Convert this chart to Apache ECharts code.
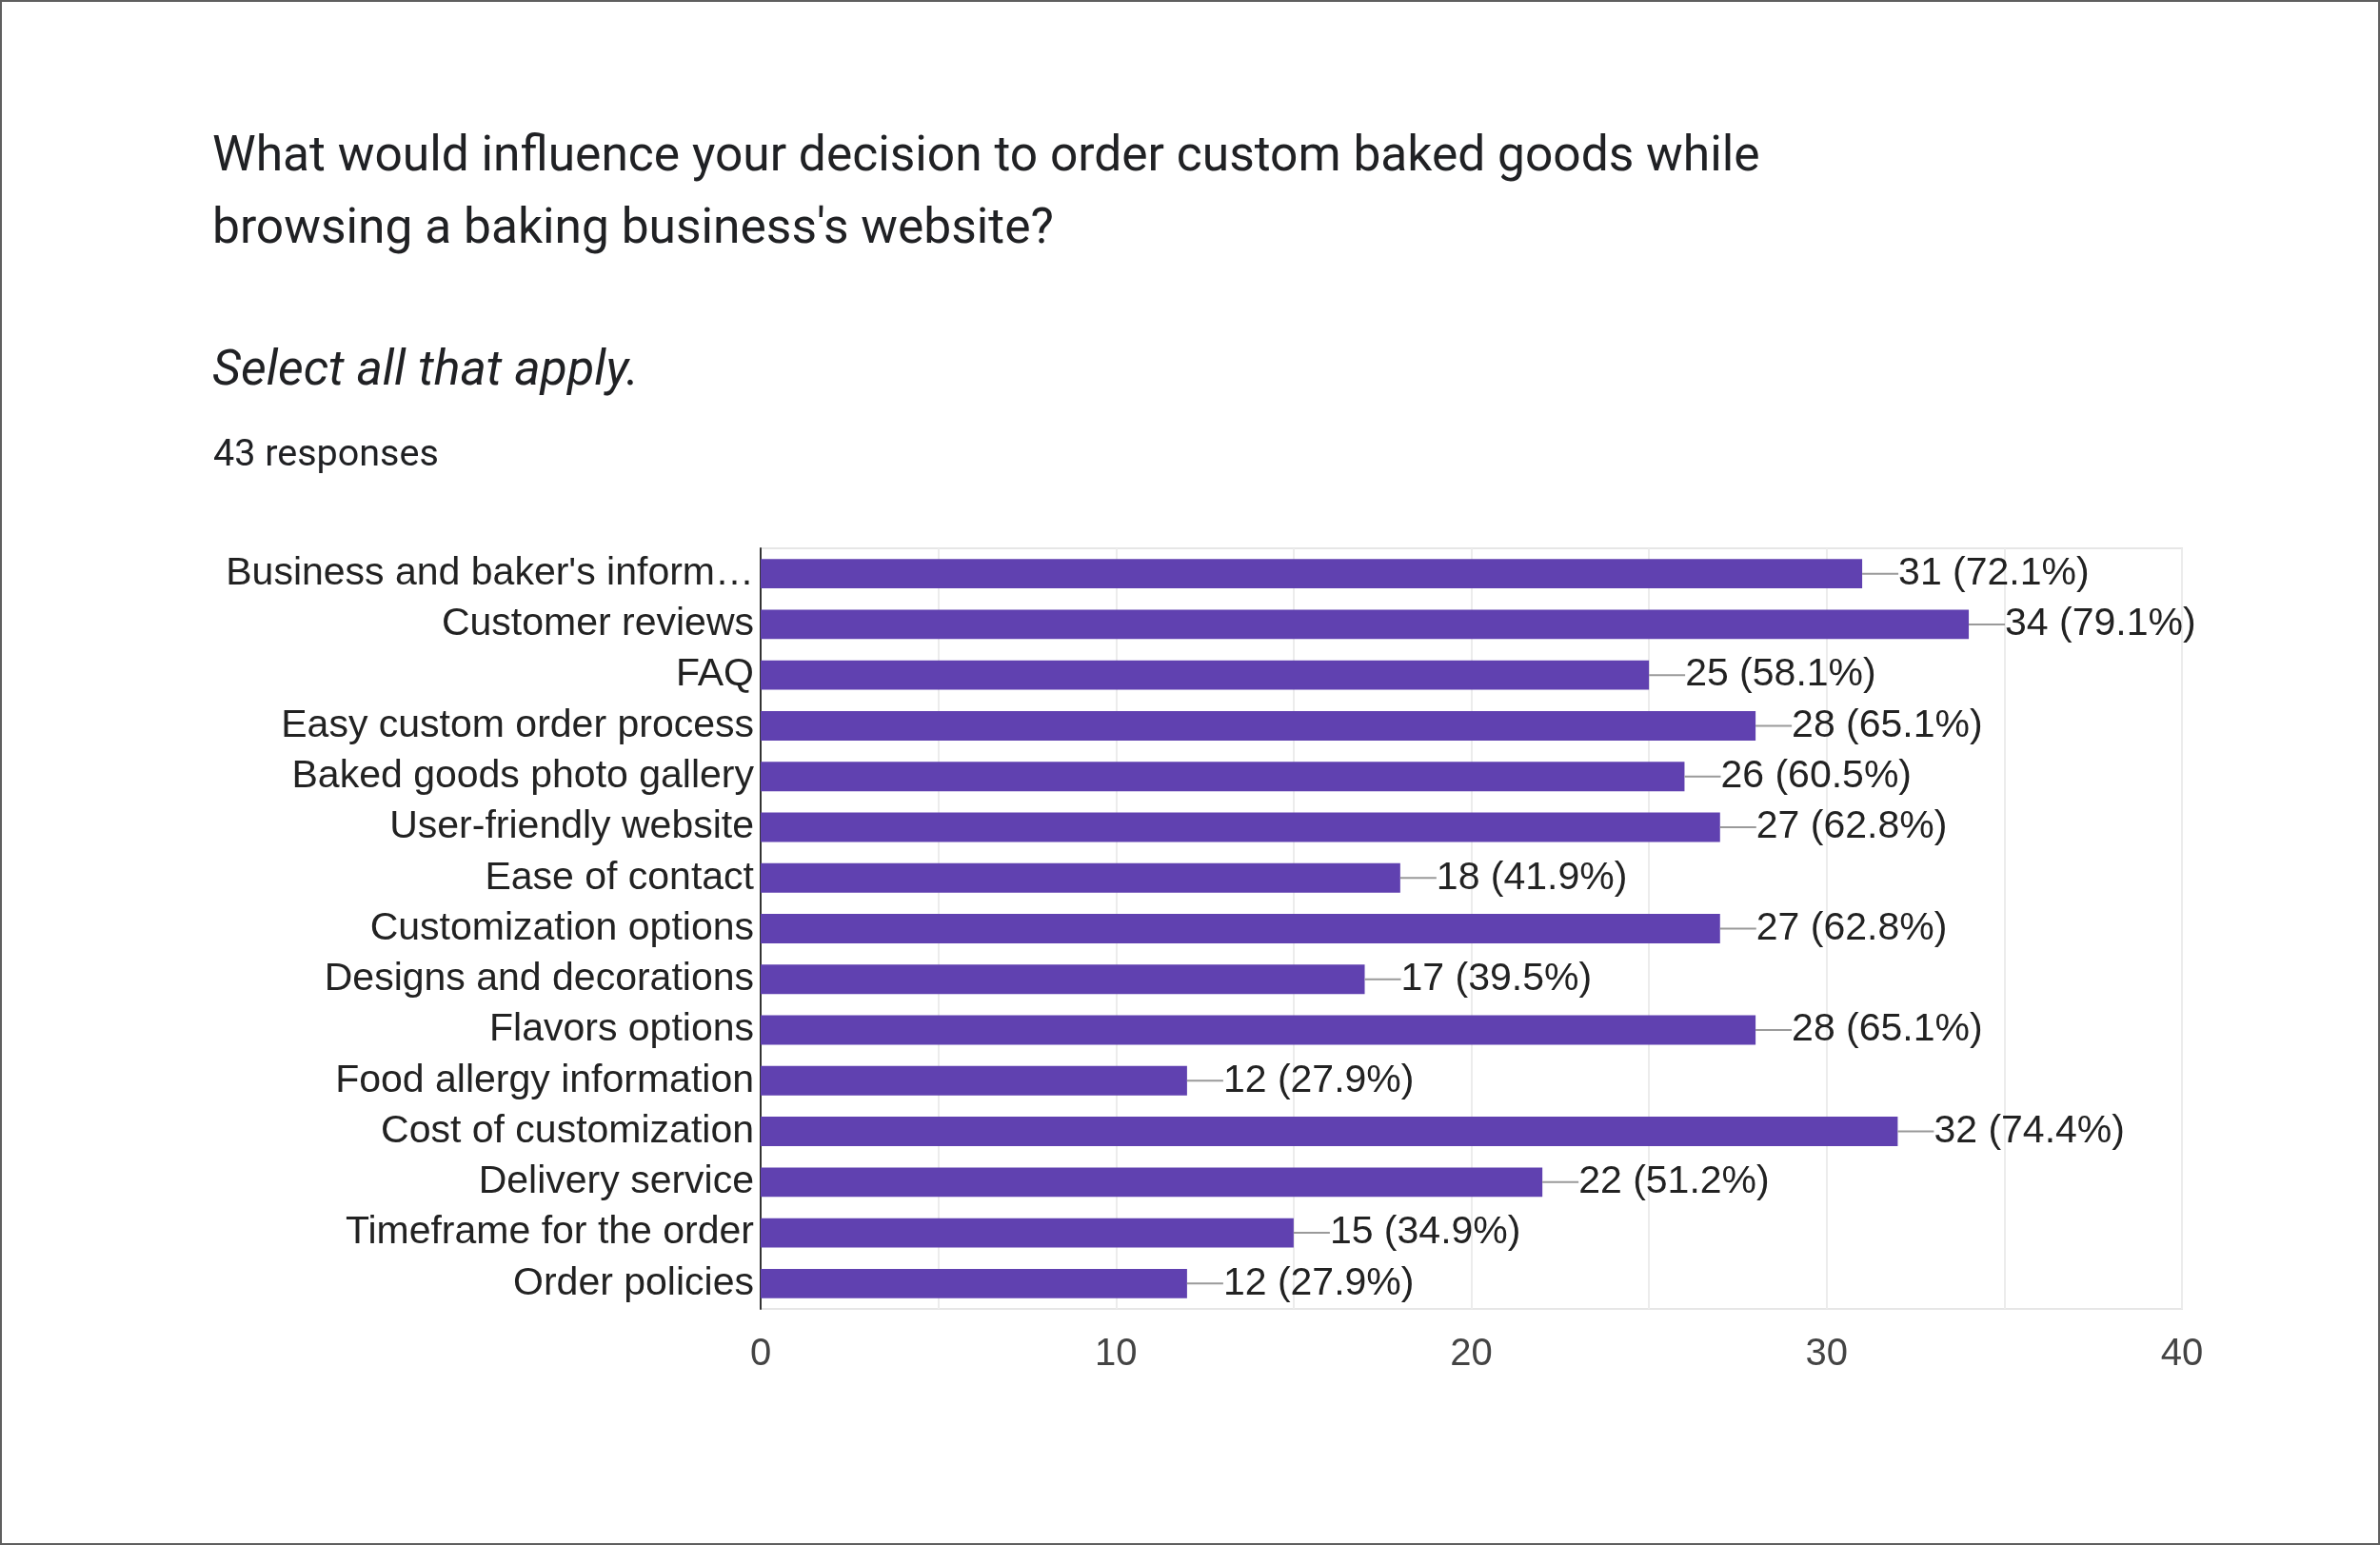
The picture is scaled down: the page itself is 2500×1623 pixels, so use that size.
<!DOCTYPE html>
<html>
<head>
<meta charset="utf-8">
<script src="https://cdn.jsdelivr.net/npm/echarts@6/dist/echarts.min.js"></script>
<style>
html,body{margin:0;padding:0;background:#fff;}
#frame{position:absolute;left:0;top:0;width:2500px;height:1623px;box-sizing:border-box;border:2px solid #5f5f5f;background:#fff;}
#chart{position:absolute;left:0;top:0;width:2500px;height:1623px;}
</style>
</head>
<body>
<div id="frame"></div>
<div id="chart"></div>
<script>
const titleLines = ["What would influence your decision to order custom baked goods while", "browsing a baking business's website?"];
const subtitle = "Select all that apply.";
const responsesText = "43 responses";
const totalResponses = 43;
const categories = [
  "Business and baker's inform\u2026",
  "Customer reviews",
  "FAQ",
  "Easy custom order process",
  "Baked goods photo gallery",
  "User-friendly website",
  "Ease of contact",
  "Customization options",
  "Designs and decorations",
  "Flavors options",
  "Food allergy information",
  "Cost of customization",
  "Delivery service",
  "Timeframe for the order",
  "Order policies"
];
const counts = [31, 34, 25, 28, 26, 27, 18, 27, 17, 28, 12, 32, 22, 15, 12];
const xTicks = [0, 10, 20, 30, 40];

const chart = echarts.init(document.getElementById('chart'), null, {renderer: 'canvas'});
const labelFont = "'Liberation Sans', Arial, sans-serif";
chart.setOption({
  animation: false,
  title: [
    {text: titleLines.join('\n'), left: 218, top: 123,
     textStyle: {fontFamily: 'Roboto', fontSize: 51.5, fontWeight: 'normal', color: '#202124', lineHeight: 76}},
    {text: subtitle, left: 218, top: 350,
     textStyle: {fontFamily: 'Roboto', fontSize: 52, fontStyle: 'italic', fontWeight: 'normal', color: '#202124', lineHeight: 72}},
    {text: responsesText, left: 219, top: 452,
     textStyle: {fontFamily: 'Roboto', fontSize: 39.5, fontWeight: 'normal', color: '#202124', lineHeight: 44}}
  ],
  grid: {left: 799, right: 208, top: 576, bottom: 248, show: true, borderColor: '#e6e6e6', borderWidth: 2, containLabel: false},
  xAxis: {
    type: 'value', min: xTicks[0], max: xTicks[xTicks.length - 1], interval: 10,
    axisLine: {show: false}, axisTick: {show: false},
    axisLabel: {fontFamily: labelFont, fontSize: 40, color: '#444', margin: 28},
    splitLine: {show: true, lineStyle: {color: '#ececec', width: 2}},
    minorTick: {show: false, splitNumber: 2},
    minorSplitLine: {show: true, lineStyle: {color: '#ececec', width: 2}}
  },
  yAxis: {
    type: 'category', data: categories, inverse: true,
    axisLine: {show: true, lineStyle: {color: '#333', width: 2}},
    axisTick: {show: false},
    axisLabel: {interval: 0, fontFamily: labelFont, fontSize: 41, color: '#222', margin: 7}
  },
  series: [{
    type: 'bar', data: counts, barCategoryGap: '42%',
    itemStyle: {color: '#6041b0'},
    label: {
      show: true, position: 'right', distance: 0,
      formatter: p => '{l|}{v|' + p.value + ' (' + (p.value / totalResponses * 100).toFixed(1) + '%)}',
      rich: {
        l: {width: 38, height: 2, backgroundColor: '#9a9a9a'},
        v: {fontFamily: labelFont, fontSize: 41, color: '#222'}
      }
    }
  }]
});
</script>
</body>
</html>
